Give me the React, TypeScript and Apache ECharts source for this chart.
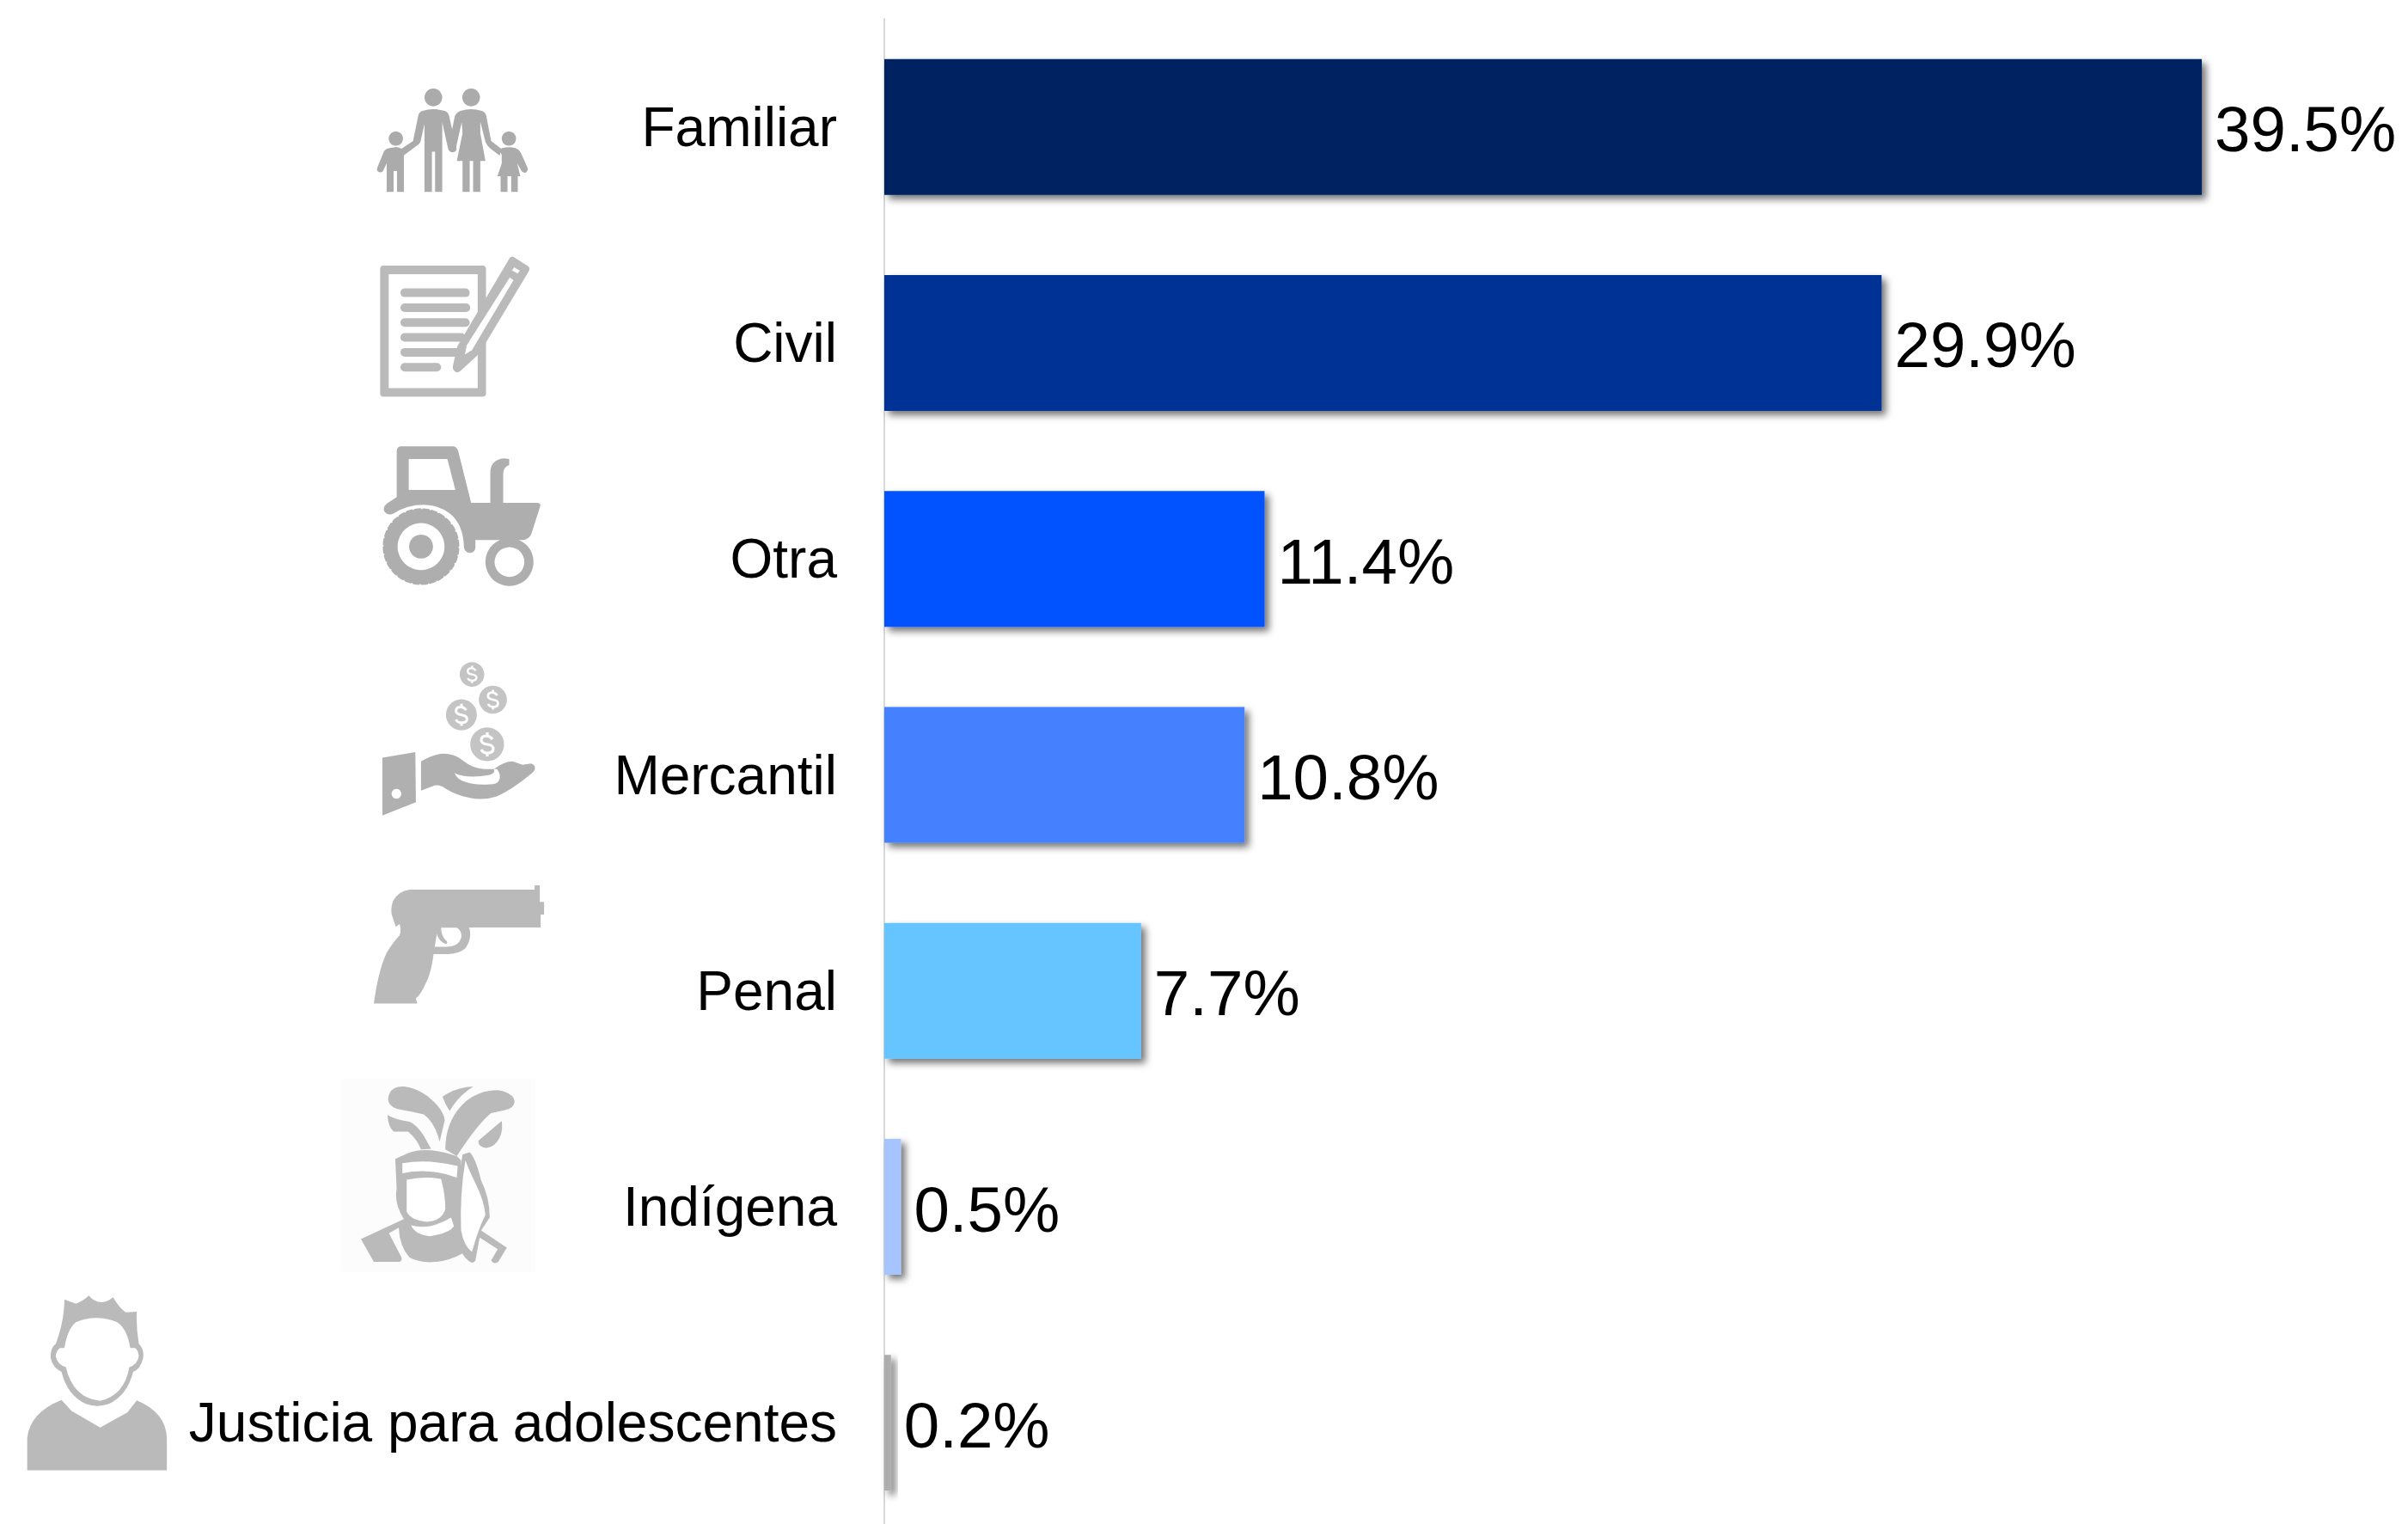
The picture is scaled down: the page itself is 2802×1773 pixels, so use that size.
import React, { useEffect, useRef } from "react";
import * as echarts from "echarts";

const categories = ["Familiar", "Civil", "Otra", "Mercantil", "Penal", "Indígena", "Justicia para adolescentes"];
const shares = [39.5, 29.9, 11.4, 10.8, 7.7, 0.5, 0.2];
const barColors = ["#002060", "#003296", "#0052FF", "#4480FF", "#66C5FF", "#A6C4FF", "#ADADAD"];

const ICON_PATHS: Record<string, string> = {
  famMan: "M192 385 L192 148 L178 210 Q172 220 165 224 L122 256 L112 234 L152 207 L170 120 Q172 106 185 102 Q222 90 262 102 Q275 106 278 120 L294 190 L304 232 Q305 245 290 247 Q278 245 274 232 L254 142 L254 385 L229 385 L229 245 L218 245 L218 385 Z",
  famWoman: "M325 385 L325 277 L305 277 L325 180 L322 142 L302 232 Q298 246 288 246 Q276 244 276 230 L298 120 Q305 106 318 102 Q355 90 392 102 Q405 106 408 120 L425 207 L460 234 L455 258 L420 232 Q410 222 405 210 L387 140 L387 180 L405 277 L387 277 L387 385 L362 385 L362 277 L350 277 L350 385 Z",
  famBoy: "M60 385 L60 285 L47 312 Q38 322 28 312 Q24 305 28 298 L50 245 Q55 234 70 232 L95 228 L115 235 L122 255 L120 260 L120 385 L96 385 L96 312 L84 312 L84 385 Z",
  famGirl: "M458 385 L458 330 L447 330 L462 285 L462 255 L455 245 L462 232 Q490 226 510 232 Q522 236 528 247 L552 300 Q555 312 545 318 Q535 320 530 310 L516 285 L527 330 L518 330 L518 385 L495 385 L495 330 L482 330 L482 385 Z",
  pencil: "M490 30 Q497 22 505 28 L552 58 Q563 66 557 76 L395 345 Q385 362 375 372 L318 425 Q305 435 296 425 Q288 416 292 405 L305 345 Q308 335 315 325 Z",
  pencilCore: "M490 98 L503 108 L358 352 L333 368 L340 335 Z",
  pencilSlot: "M505 63 L525 74 L518 85 L498 74 Z",
  tractor: "M95 45 Q95 28 112 28 L290 28 Q305 28 310 45 L355 225 L422 225 L422 120 Q422 75 470 70 L488 72 L488 93 Q467 100 467 125 L467 225 L585 225 Q597 225 597 235 L565 335 Q558 350 540 355 L370 355 L370 380 Q370 400 350 400 Q332 398 330 380 Q328 300 280 262 Q240 232 190 232 Q130 232 85 262 Q65 272 52 255 Q45 240 60 228 L95 205 Z",
  tractorWin: "M137 72 L272 72 L300 180 L137 180 Z",
  cuff: "M45 365 L160 345 L162 520 L45 567 Z",
  hand: "M180 378 Q235 345 275 352 Q305 355 330 378 Q360 402 400 405 L435 405 Q470 378 500 378 L535 390 L565 385 Q580 390 578 405 Q575 415 560 425 Q500 475 445 500 Q400 515 350 505 Q300 495 265 472 Q240 455 220 465 L180 480 Z",
  handGap: "M297 418 Q340 440 420 425 Q440 420 435 405 L445 405 Q462 425 452 445 Q445 458 420 458 Q370 462 335 450 Q305 440 297 418 Z",
  dollar: "M12 -12 Q6 -20 -2 -20 Q-14 -20 -14 -10 Q-14 -2 0 0 Q14 2 14 10 Q14 20 0 20 Q-10 20 -14 12 M0 -28 L0 -20 M0 20 L0 28",
  gun: "M170 45 L607 45 L607 30 L625 30 L625 88 L640 88 L640 132 L628 132 L628 177 L378 177 Q390 215 365 250 Q340 272 295 270 L254 270 Q245 340 225 375 Q210 410 192 425 L197 443 L45 443 Q60 330 90 265 Q115 225 135 205 Q142 185 135 165 L122 175 L112 145 Q100 120 112 85 Q130 50 170 45 Z",
  gunGap: "M280 178 L335 178 Q355 190 350 215 Q340 245 300 245 L258 245 L265 200 Q272 225 295 235 Q305 235 300 225 Q280 210 280 178 Z",
  featherLeft: "M185 85 Q190 40 240 42 Q300 50 345 95 Q380 130 383 160 L365 235 Q350 170 310 140 Q270 130 215 120 Q185 110 185 85 Z",
  featherLow: "M183 142 Q215 160 260 165 Q285 175 310 215 L335 260 L300 262 Q285 225 255 200 Q235 200 205 200 Q185 185 183 142 Z",
  featherBack: "M375 78 Q420 45 483 42 Q430 75 400 128 Q385 105 375 78 Z",
  featherRight: "M385 262 Q385 170 440 110 Q490 55 570 55 Q625 65 627 95 Q625 120 590 125 L545 135 Q500 170 425 285 Z",
  featherSmall: "M582 162 Q590 220 550 250 Q520 265 503 245 L500 232 Z",
  chief: "M240 505 L90 575 L135 655 L225 655 Q235 650 232 640 L188 555 L222 535 Q225 600 260 640 Q300 660 350 655 Q400 650 445 625 L440 300 L425 285 Q320 250 255 275 L210 295 L215 400 Q205 450 240 505 Z",
  chiefFace: "M250 368 Q320 355 370 365 Q385 420 385 470 Q375 510 320 515 Q265 510 250 480 Z",
  chiefBand: "M235 310 Q330 295 428 320 L425 360 Q330 325 235 345 Z",
  chiefChin: "M265 527 Q330 545 405 500 L415 530 Q400 555 330 565 Q280 560 265 527 Z",
  chiefHair: "M445 280 L470 272 Q490 290 510 370 Q540 430 540 500 L510 545 L600 605 L570 655 Q555 665 545 650 L568 610 L505 570 L490 650 Q480 665 465 650 Q440 630 430 590 Q420 480 430 400 Q435 340 445 280 Z",
  chiefHairIn: "M455 300 Q470 340 490 380 Q520 440 525 490 Q500 540 478 620 Q450 600 440 545 Q435 420 455 300 Z",
  teenHead: "M165 35 L205 50 Q225 45 250 22 Q270 45 295 45 Q315 45 335 28 Q360 70 380 80 L418 78 Q415 130 425 190 Q445 210 440 240 Q430 280 405 288 Q385 370 320 400 Q280 415 240 400 Q175 370 155 288 Q125 275 117 240 Q115 205 135 190 Q165 110 165 35 Z",
  teenFace: "M165 205 Q175 140 205 115 Q275 85 350 115 Q385 140 395 205 L412 205 Q425 215 425 235 Q420 262 392 272 Q375 370 290 390 Q195 380 170 272 Q140 262 135 235 Q135 215 150 205 Z",
  teenBody: "M155 387 L190 425 L290 483 L385 430 L418 388 Q520 430 523 520 L523 632 L35 632 L35 520 Q45 430 155 387 Z",
};

Object.keys(ICON_PATHS).forEach((name) => {
  echarts.graphic.registerShape(name, echarts.graphic.extendPath(ICON_PATHS[name], {}) as any);
});

const p = (name: string, fill: string) => ({ type: name, silent: true, style: { fill } });
const circle = (cx: number, cy: number, r: number, fill: string) => ({
  type: "circle", silent: true, shape: { cx, cy, r }, style: { fill },
});
const roundRect = (x: number, y: number, width: number, height: number, r: number, fill: string) => ({
  type: "rect", silent: true, shape: { x, y, width, height, r }, style: { fill },
});
const icon = (x: number, y: number, children: any[]) => ({
  type: "group", x, y, scaleX: 1 / 3, scaleY: 1 / 3, silent: true, children,
});
const coin = (cx: number, cy: number, r: number, fill: string) => {
  const k = (r / 59) * 1.5;
  return [
    circle(cx, cy, r, fill),
    {
      type: "dollar", silent: true, x: cx, y: cy, scaleX: k, scaleY: k,
      style: { fill: "none", stroke: "#ffffff", lineWidth: 6.5 },
    },
  ];
};

const WHITE = "#ffffff";
const icons = () => {
  const fam = "#ABABAB";
  const doc = "#BABABA";
  const trac = "#AEAEAE";
  const handC = "#B0B0B0";
  const coinC = "#C4C4C4";
  const soft = "#BABABA";
  return [
    icon(430, 95, [
      circle(223, 55, 31, fam), circle(355, 55, 31, fam), circle(92, 199, 25, fam), circle(487, 199, 25, fam),
      p("famMan", fam), p("famWoman", fam), p("famBoy", fam), p("famGirl", fam),
    ]),
    icon(430, 290, [
      roundRect(37, 57, 370, 458, 12, doc), roundRect(67, 87, 311, 398, 0, WHITE),
      roundRect(108, 137, 242, 30, 15, doc), roundRect(108, 189, 244, 30, 15, doc),
      roundRect(108, 241, 242, 30, 15, doc), roundRect(108, 293, 227, 30, 15, doc),
      roundRect(108, 345, 212, 30, 15, doc), roundRect(108, 397, 142, 30, 15, doc),
      p("pencil", doc), p("pencilCore", WHITE), p("pencilSlot", WHITE),
    ]),
    icon(430, 510, [
      p("tractor", trac), p("tractorWin", WHITE),
      { type: "ring", silent: true, shape: { cx: 180, cy: 378, r: 134, r0: 82 }, style: { fill: trac } },
      { type: "circle", silent: true, shape: { cx: 180, cy: 378, r: 134 }, style: { fill: "none", stroke: WHITE, lineWidth: 6, lineDash: [5, 25] } },
      circle(180, 378, 42, trac),
      { type: "ring", silent: true, shape: { cx: 489, cy: 432, r: 84, r0: 52 }, style: { fill: trac } },
    ]),
    icon(430, 760, [
      p("cuff", handC), circle(94, 491, 17, WHITE), p("hand", handC), p("handGap", WHITE),
      ...coin(358, 74, 43, coinC), ...coin(431, 162, 49, coinC), ...coin(321, 215, 54, coinC), ...coin(411, 318, 59, coinC),
    ]),
    icon(420, 1020, [p("gun", soft), p("gunGap", WHITE)]),
    icon(390, 1250, [
      roundRect(20, 15, 680, 675, 0, "#FCFCFC"),
      p("featherLeft", soft), p("featherLow", soft), p("featherBack", soft), p("featherRight", soft), p("featherSmall", soft),
      p("chief", soft), p("chiefFace", WHITE), p("chiefBand", WHITE), p("chiefChin", WHITE),
      p("chiefHair", soft), p("chiefHairIn", WHITE),
    ]),
    icon(20, 1500, [p("teenHead", soft), p("teenFace", WHITE), p("teenBody", soft)]),
  ];
};

export default function App() {
  const ref = useRef<HTMLDivElement>(null);
  useEffect(() => {
    const chart = echarts.init(ref.current!, undefined, { renderer: "svg" });
    chart.setOption({
      animation: false,
      backgroundColor: "#ffffff",
      textStyle: { fontFamily: "Liberation Sans" },
      graphic: { elements: icons() },
      grid: { left: 1029, top: 22, width: 1746.5, height: 1759, containLabel: false },
      xAxis: { type: "value", min: 0, max: 45, show: false },
      yAxis: {
        type: "category",
        inverse: true,
        data: categories,
        offset: 1,
        axisLine: { show: true, lineStyle: { color: "#D9D9D9", width: 2 } },
        axisTick: { show: false },
        axisLabel: {
          fontFamily: "Liberation Sans", fontSize: 64, color: "#000000", margin: 54,
          padding: [0, 0, 10, 0],
        },
      },
      series: [
        {
          type: "bar",
          barWidth: 158,
          silent: true,
          data: shares.map((value, i) => ({ value, itemStyle: { color: barColors[i] } })),
          itemStyle: { shadowColor: "rgba(0,0,0,0.55)", shadowBlur: 8, shadowOffsetX: 5, shadowOffsetY: 5 },
          label: {
            show: true,
            position: "right",
            distance: 15,
            offset: [0, 3],
            fontFamily: "Liberation Sans",
            fontSize: 74.5,
            color: "#000000",
            formatter: (d: any) => `${d.value.toFixed(1)}%`,
          },
        },
      ],
    });
    return () => chart.dispose();
  }, []);
  return (
    <div style={{ position: "absolute", left: 0, top: 0, width: 2802, height: 1773, overflow: "hidden" }}>
      <div ref={ref} style={{ width: 2802, height: 1800 }} />
    </div>
  );
}
